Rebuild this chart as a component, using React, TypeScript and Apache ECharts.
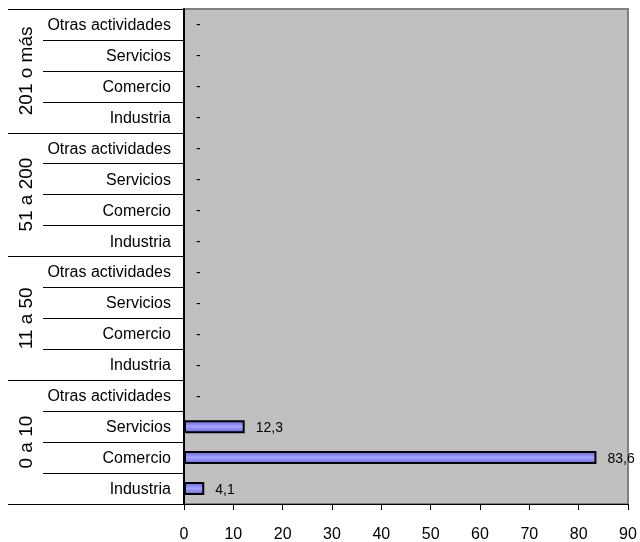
import React, { useEffect, useRef } from "react";
import * as echarts from "echarts";

const groups = ["0 a 10", "11 a 50", "51 a 200", "201 o más"];
const sectors = ["Industria", "Comercio", "Servicios", "Otras actividades"];
// values per group, in sector order (Industria, Comercio, Servicios, Otras)
const g0a10 = [4.1, 83.6, 12.3, 0];
const g11a50 = [0, 0, 0, 0];
const g51a200 = [0, 0, 0, 0];
const g201mas = [0, 0, 0, 0];
const xTicks = { min: 0, max: 90, interval: 10 };

const FONT = "'Liberation Sans', Arial, sans-serif";

export default function App() {
  const ref = useRef<HTMLDivElement>(null);
  useEffect(() => {
    if (!ref.current) return;
    const chart = echarts.init(ref.current, null, { renderer: "svg" });
    const cats: string[] = [];
    const vals: number[] = [];
    const all = [g0a10, g11a50, g51a200, g201mas];
    groups.forEach((g, gi) => {
      sectors.forEach((s, si) => {
        cats.push(s);
        vals.push(all[gi][si]);
      });
    });
    chart.setOption({
      animation: false,
      grid: {
        left: 184,
        right: 12,
        top: 9,
        bottom: 38,
        show: true,
        backgroundColor: "#c0c0c0",
        borderColor: "#808080",
        borderWidth: 2,
      },
      xAxis: {
        type: "value",
        min: xTicks.min,
        max: xTicks.max,
        interval: xTicks.interval,
        axisLine: { show: true, lineStyle: { color: "#000", width: 1 } },
        axisTick: { show: true, length: 6, lineStyle: { color: "#000" } },
        splitLine: { show: false },
        axisLabel: { color: "#000", fontSize: 16, fontFamily: FONT, margin: 21 },
      },
      yAxis: [
        {
          type: "category",
          data: cats,
          axisLine: { show: true, lineStyle: { color: "#000", width: 2 } },
          axisTick: { show: true, length: 141, lineStyle: { color: "#000", width: 1 } },
          axisLabel: { color: "#000", fontSize: 16, fontFamily: FONT, margin: 13 },
        },
        {
          type: "category",
          data: groups,
          position: "left",
          offset: 0,
          axisLine: { show: false },
          axisTick: { show: true, length: 176, lineStyle: { color: "#000", width: 1 } },
          axisLabel: {
            color: "#000",
            fontSize: 19,
            fontFamily: FONT,
            rotate: 90,
            margin: 149,
          },
        },
      ],
      series: [
        {
          type: "bar",
          yAxisIndex: 0,
          data: vals,
          barWidth: 13,
          itemStyle: {
            color: new echarts.graphic.LinearGradient(0, 0, 0, 1, [
              { offset: 0, color: "#6a6ae0" },
              { offset: 0.5, color: "#a4a4ff" },
              { offset: 1, color: "#6a6ae0" },
            ]),
            borderColor: "#000",
            borderWidth: 2,
          },
          label: {
            show: true,
            position: "right",
            distance: 11,
            color: "#000",
            fontSize: 14,
            fontFamily: FONT,
            formatter: (p: any) => (p.value === 0 ? "-" : String(p.value).replace(".", ",")),
          },
        },
      ],
    });
    return () => chart.dispose();
  }, []);
  return (
    <div
      ref={ref}
      style={{ position: "fixed", left: 0, top: 0, width: 640, height: 542 }}
    />
  );
}
